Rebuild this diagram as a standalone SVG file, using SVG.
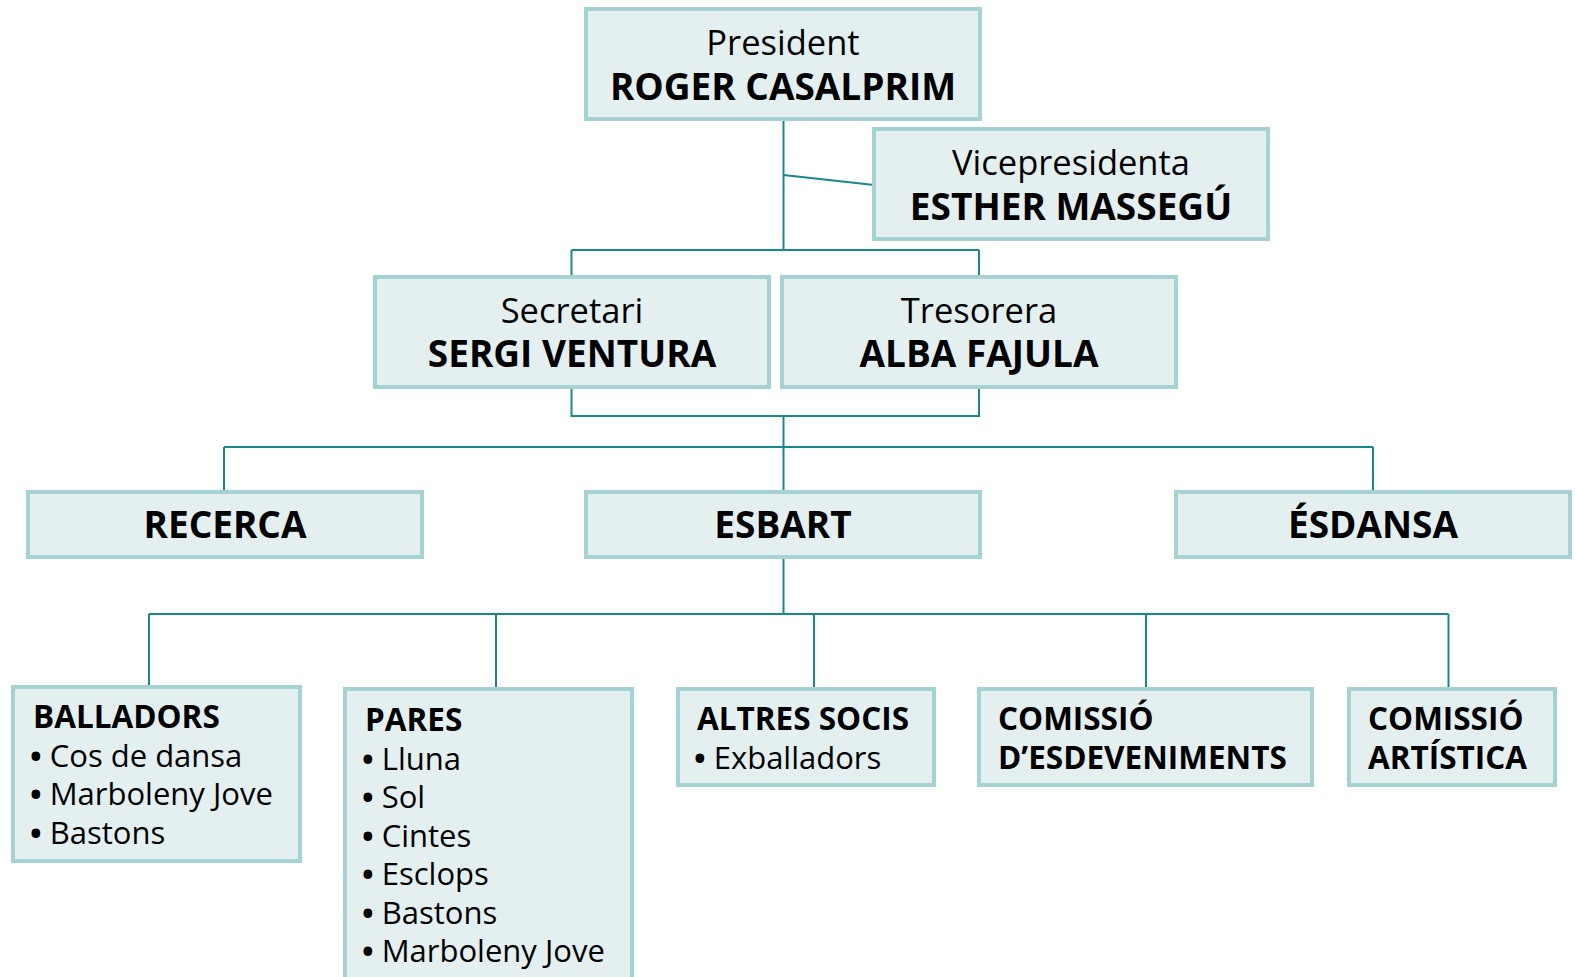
<svg xmlns="http://www.w3.org/2000/svg" width="1575" height="977" viewBox="0 0 1575 977">
<style>
.box{fill:#e4f0f0;stroke:#a5d3d3;stroke-width:4}
.c{fill:none;stroke:#16898a;stroke-width:2}
text{font-family:"Open Sans","DejaVu Sans",sans-serif;fill:#000}
.r{font-size:34.5px}
.b{font-size:37px;font-weight:bold}
.hb{font-size:31.5px;font-weight:bold}
.li{font-size:31px}
.bu{font-weight:bold}
.mid{text-anchor:middle}
</style>
<rect width="1575" height="977" fill="#fff"/>
<g id="connectors">
<path class="c" d="M783.5 120V250M783.5 175L874 185M571.5 250H979M571.5 250V276M979 250V276"/>
<path class="c" d="M571.5 387V416H979V387M783.5 416V492M224 447H1373M224 447V492M1373 447V492"/>
<path class="c" d="M783.5 557V614M149 614H1448.5M149 614V687M496 614V689M814 614V689M1146 614V689M1448.5 614V689"/>
</g>
<g id="president"><rect class="box" x="586" y="9" width="394" height="110"/>
<text class="r mid" x="783" y="55">President</text><text class="b mid" x="783" y="100">ROGER CASALPRIM</text></g>
<g id="vicepresidenta"><rect class="box" x="874" y="129" width="394" height="110"/>
<text class="r mid" x="1071" y="175">Vicepresidenta</text><text class="b mid" x="1071" y="220">ESTHER MASSEGÚ</text></g>
<g id="secretari"><rect class="box" x="375" y="277" width="394" height="110"/>
<text class="r mid" x="572" y="323">Secretari</text><text class="b mid" x="572" y="367">SERGI VENTURA</text></g>
<g id="tresorera"><rect class="box" x="782" y="277" width="394" height="110"/>
<text class="r mid" x="979" y="323">Tresorera</text><text class="b mid" x="979" y="367">ALBA FAJULA</text></g>
<g id="recerca"><rect class="box" x="28" y="492" width="394" height="65"/>
<text class="b mid" x="225" y="538">RECERCA</text></g>
<g id="esbart"><rect class="box" x="586" y="492" width="394" height="65"/>
<text class="b mid" x="783" y="538">ESBART</text></g>
<g id="esdansa"><rect class="box" x="1176" y="492" width="394" height="65"/>
<text class="b mid" x="1373" y="538">ÉSDANSA</text></g>
<g id="balladors"><rect class="box" x="13" y="687" width="287" height="174"/>
<text class="hb" x="33" y="728">BALLADORS</text>
<text class="li" x="30" y="767"><tspan class="bu">•</tspan> Cos de dansa</text>
<text class="li" x="30" y="805"><tspan class="bu">•</tspan> Marboleny Jove</text>
<text class="li" x="30" y="844"><tspan class="bu">•</tspan> Bastons</text></g>
<g id="pares"><rect class="box" x="345" y="689" width="287" height="300"/>
<text class="hb" x="365" y="731">PARES</text>
<text class="li" x="362" y="770"><tspan class="bu">•</tspan> Lluna</text>
<text class="li" x="362" y="808"><tspan class="bu">•</tspan> Sol</text>
<text class="li" x="362" y="847"><tspan class="bu">•</tspan> Cintes</text>
<text class="li" x="362" y="885"><tspan class="bu">•</tspan> Esclops</text>
<text class="li" x="362" y="924"><tspan class="bu">•</tspan> Bastons</text>
<text class="li" x="362" y="962"><tspan class="bu">•</tspan> Marboleny Jove</text></g>
<g id="altres-socis"><rect class="box" x="678" y="689" width="256" height="96"/>
<text class="hb" x="697" y="730">ALTRES SOCIS</text>
<text class="li" x="694" y="769"><tspan class="bu">•</tspan> Exballadors</text></g>
<g id="comissio-esdeveniments"><rect class="box" x="979" y="689" width="333" height="96"/>
<text class="hb" x="998" y="730">COMISSIÓ</text>
<text class="hb" x="998" y="769">D’ESDEVENIMENTS</text></g>
<g id="comissio-artistica"><rect class="box" x="1349" y="689" width="206" height="96"/>
<text class="hb" x="1368" y="730">COMISSIÓ</text>
<text class="hb" x="1368" y="769">ARTÍSTICA</text></g>
</svg>
